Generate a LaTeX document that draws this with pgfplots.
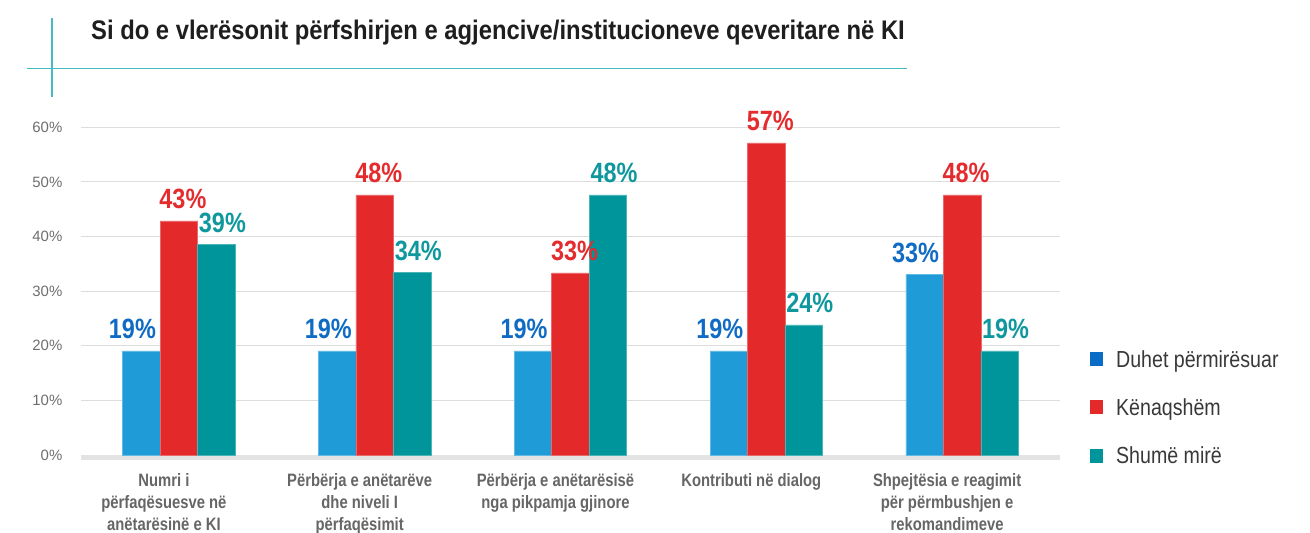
\documentclass[border=0pt]{standalone}
\usepackage{fontspec}
\setmainfont{Liberation Sans}
\newfontfamily\cond{Liberation Sans}[FakeStretch=0.84]
\newfontfamily\condc{Liberation Sans}[FakeStretch=0.826]
\newfontfamily\condt{Liberation Sans}[FakeStretch=0.885]
\newfontfamily\condl{Liberation Sans}[FakeStretch=0.845]
\usepackage{pgfplots}
\pgfplotsset{compat=1.18}
\definecolor{barblue}{HTML}{1F9BD7}
\definecolor{labblue}{HTML}{0F6BC3}
\definecolor{legblue}{HTML}{0A6CC4}
\definecolor{barred}{HTML}{E4292B}
\definecolor{labred}{HTML}{E42B2E}
\definecolor{barteal}{HTML}{00959A}
\definecolor{labteal}{HTML}{0E989D}
\definecolor{decor}{HTML}{45BCC4}
\definecolor{gridc}{HTML}{DDDDDD}
\definecolor{bandc}{HTML}{E3E3E3}
\definecolor{tickc}{HTML}{6E6E6E}
\definecolor{catc}{HTML}{666666}
\definecolor{legtext}{HTML}{383838}
\definecolor{titlec}{HTML}{1E1E1E}
\begin{document}
\begin{tikzpicture}
\useasboundingbox (0,0) rectangle (1310bp,-533bp);
\draw[decor, line width=1.3bp] (52bp,-18bp) -- (52bp,-97bp);
\draw[decor, line width=1.3bp] (27bp,-68.7bp) -- (907bp,-68.7bp);
\node[anchor=base west, inner sep=0pt, text=titlec] at (91bp,-39bp)
  {\fontsize{27}{30}\selectfont\condt\bfseries Si do e vlerësonit përfshirjen e agjencive/institucioneve qeveritare në KI};
\begin{axis}[
  at={(81bp,-455bp)}, anchor=south west,
  scale only axis, width=979bp, height=327.7bp,
  xmin=-0.5, xmax=4.5, ymin=0, ymax=60,
  clip=false,
  ybar=0pt, bar width=37.5bp,
  axis line style={draw=none},
  major tick length=0pt,
  ymajorgrids, grid style={gridc, line width=1bp},
  ytick={0,10,20,30,40,50,60},
  yticklabels={0\%,10\%,20\%,30\%,40\%,50\%,60\%},
  yticklabel style={font=\fontsize{15}{18}\selectfont, text=tickc, inner sep=0pt, xshift=-18.5bp},
  xtick={0,1,2,3,4},
  xticklabels={{Numri i\\përfaqësuesve në\\anëtarësinë e KI},
               {Përbërja e anëtarëve\\dhe niveli I\\përfaqësimit},
               {Përbërja e anëtarësisë\\nga pikpamja gjinore},
               {Kontributi në dialog},
               {Shpejtësia e reagimit\\për përmbushjen e\\rekomandimeve}},
  xticklabel style={font=\fontsize{18}{22}\selectfont\condc\bfseries, text=catc, align=center, anchor=north, inner sep=0pt, yshift=-18.5bp, xshift=-15bp},
  point meta=explicit symbolic,
  nodes near coords,
  every node near coord/.append style={font=\fontsize{28}{30}\selectfont\cond\bfseries, anchor=base, inner sep=0pt, yshift=12bp},
  legend cell align=left,
  legend style={at={(axis description cs:1.0306,0.3205)}, anchor=north west, draw=none, fill=none,
    inner sep=0pt, row sep=29.8bp, font=\fontsize{23.3}{28}\selectfont\condl, text=legtext,
    nodes={inner sep=0pt, text=legtext}},
]
\draw[bandc, line width=5bp] ([yshift=-2.2bp]rel axis cs:0,0) -- ([yshift=-2.2bp]rel axis cs:1,0);
\addplot[fill=barblue, draw=barblue!70!white, line width=0.6bp, forget plot, bar shift=-37.5bp,
  every node near coord/.append style={text=labblue, xshift=-9bp}]
  coordinates {(0,19.05)[19\%] (1,19.05)[19\%] (2,19.05)[19\%] (3,19.05)[19\%] (4,33.0)[33\%]};
\addplot[fill=barred, draw=barred!70!white, line width=0.6bp, forget plot, bar shift=0bp,
  every node near coord/.append style={text=labred, xshift=4bp}]
  coordinates {(0,42.86)[43\%] (1,47.62)[48\%] (2,33.33)[33\%] (3,57.14)[57\%] (4,47.62)[48\%]};
\addplot[fill=barteal, draw=barteal!70!white, line width=0.6bp, forget plot, bar shift=37.5bp,
  every node near coord/.append style={text=labteal, xshift=6bp}]
  coordinates {(0,38.5)[39\%] (1,33.4)[34\%] (2,47.62)[48\%] (3,23.81)[24\%] (4,19.05)[19\%]};
\addlegendimage{legend image code/.code={\fill[legblue, draw=none] (0bp,-7bp) rectangle (13bp,7bp); \path[draw=none, fill=none] (0bp,0bp) rectangle (26bp,0.1bp);}}
\addlegendentry{Duhet përmirësuar}
\addlegendimage{legend image code/.code={\fill[barred, draw=none] (0bp,-7bp) rectangle (13bp,7bp); \path[draw=none, fill=none] (0bp,0bp) rectangle (26bp,0.1bp);}}
\addlegendentry{Kënaqshëm}
\addlegendimage{legend image code/.code={\fill[barteal, draw=none] (0bp,-7bp) rectangle (13bp,7bp); \path[draw=none, fill=none] (0bp,0bp) rectangle (26bp,0.1bp);}}
\addlegendentry{Shumë mirë}
\end{axis}
\end{tikzpicture}
\end{document}
